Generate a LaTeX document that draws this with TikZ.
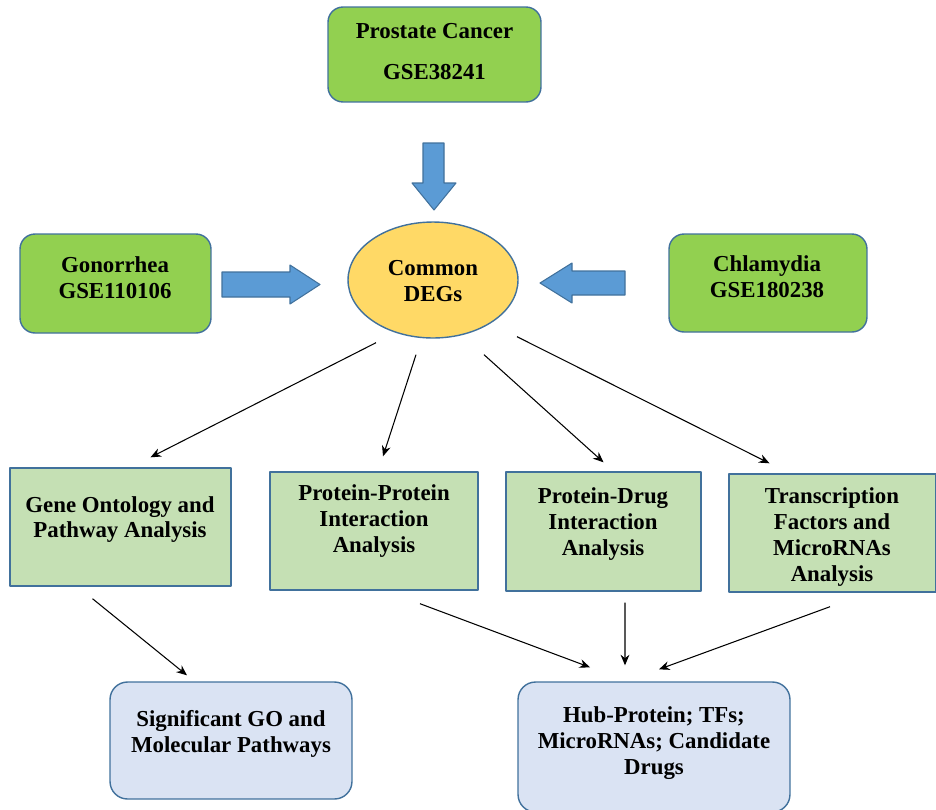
\documentclass[tikz,border=0pt]{standalone}
\usepackage{fontspec}
\setmainfont{Liberation Serif}
\usetikzlibrary{calc,shapes.geometric,arrows.meta}

\definecolor{dgreen}{HTML}{92D050}
\definecolor{lgreen}{HTML}{C5E0B4}
\definecolor{lblue}{HTML}{DAE3F3}
\definecolor{degfill}{HTML}{FFD966}
\definecolor{ablue}{HTML}{5B9BD5}
\definecolor{edge}{HTML}{41719C}

\tikzset{
  dbox/.style={draw=edge, fill=dgreen, rounded corners=0.3cm, line width=0.8pt},
  lbox/.style={draw=edge, fill=lgreen, line width=0.8pt},
  bbox/.style={draw=edge, fill=lblue, rounded corners=0.35cm, line width=0.8pt},
  txt/.style={align=center, font=\fontsize{13}{14.7}\selectfont\bfseries},
  fat/.style={draw=edge, fill=ablue, line width=0.6pt},
}

\begin{document}
\begin{tikzpicture}[x=0.02cm, y=-0.02cm, >={Stealth[length=6pt,width=5pt]}, line join=round]
  \useasboundingbox (0,0) rectangle (936,809);

  % data sets
  \node[dbox, minimum width=4.26cm, minimum height=1.9cm] (pc) at (434.5,54.5) {};
  \node[dbox, minimum width=3.82cm, minimum height=1.98cm] (gon) at (115.5,283.5) {};
  \node[dbox, minimum width=3.96cm, minimum height=1.96cm] (chl) at (768,283) {};
  \node[ellipse, draw=edge, fill=degfill, line width=0.8pt, minimum width=3.4cm, minimum height=2.32cm] (deg) at (433,280) {};

  \node[txt] at (434.5,51.5) {Prostate Cancer\\[8.5pt]GSE38241};
  \node[txt] at (115,277.5) {Gonorrhea\\GSE110106};
  \node[txt] at (767,277) {Chlamydia\\GSE180238};
  \node[txt] at (433,281) {Common\\DEGs};

  % block arrows into the DEGs
  \draw[fat] (423,143)--(444,143)--(444,183)--(456,183)--(434,210)--(412,183)--(423,183)--cycle;
  \draw[fat] (222,272)--(290,272)--(290,265)--(320,284.5)--(290,304)--(290,297)--(222,297)--cycle;
  \draw[fat] (625,271)--(572,271)--(572,263)--(540,283)--(572,303)--(572,295)--(625,295)--cycle;

  % analyses
  \node[lbox, minimum width=4.42cm, minimum height=2.36cm] (go) at (120.5,527) {};
  \node[lbox, minimum width=4.16cm, minimum height=2.36cm] (ppi) at (374,531) {};
  \node[lbox, minimum width=3.9cm, minimum height=2.38cm] (pdi) at (603.5,531.5) {};
  \node[lbox, minimum width=4.14cm, minimum height=2.36cm] (tf) at (832.5,533) {};

  \node[txt] at (120,519.5) {Gene Ontology and\\Pathway Analysis};
  \node[txt] at (374,521) {Protein-Protein\\Interaction\\Analysis};
  \node[txt] at (603,524) {Protein-Drug\\Interaction\\Analysis};
  \node[txt] at (832,537) {Transcription\\Factors and\\MicroRNAs\\Analysis};

  % results
  \node[bbox, minimum width=4.84cm, minimum height=2.34cm] (sig) at (231,740.5) {};
  \node[bbox, minimum width=5.44cm, minimum height=2.6cm] (hub) at (654,747) {};

  \node[txt] at (231,733.5) {Significant GO and\\Molecular Pathways};
  \node[txt] at (654,743) {Hub-Protein; TFs;\\MicroRNAs; Candidate\\Drugs};

  % connectors
  \draw[->, line width=0.6pt] ($(deg.south)+(-57,4)$) -- ($(go.north)+(30,-10)$);
  \draw[->, line width=0.6pt] ($(deg.south)+(-17,16)$) -- ($(ppi.north)+(9,-15)$);
  \draw[->, line width=0.6pt] ($(deg.south)+(51,16)$) -- ($(pdi.north)+(0,-9)$);
  \draw[->, line width=0.6pt] ($(deg.south)+(84,-2)$) -- ($(tf.north)+(-63,-10)$);
  \draw[->, line width=0.6pt] ($(go.south)+(-28,12)$) -- ($(sig.north)+(-44,-6)$);
  \draw[->, line width=0.6pt] ($(ppi.south)+(46,13)$) -- ($(hub.north)+(-64,-14)$);
  \draw[->, line width=0.6pt] ($(pdi.south)+(21.5,11)$) -- ($(hub.north)+(-29,-16)$);
  \draw[->, line width=0.6pt] ($(tf.south)+(-2.5,14)$) -- ($(hub.north)+(5,-12)$);
\end{tikzpicture}
\end{document}
